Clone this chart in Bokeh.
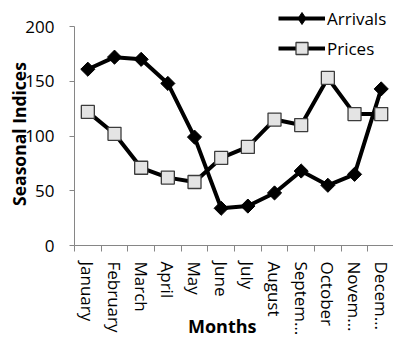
import math
from bokeh.plotting import figure
from bokeh.models import FixedTicker, Legend, LegendItem, Range1d, Label
from bokeh.embed import file_html
from bokeh.resources import INLINE

months = ["January", "February", "March", "April", "May", "June", "July",
          "August", "September", "October", "November", "December"]
month_labels = ["January", "February", "March", "April", "May", "June", "July",
                "August", "Septem…", "October", "Novem…", "Decem…"]
arrivals = [161, 172, 170, 148, 99, 34, 36, 48, 68, 55, 65, 143]
prices = [122, 102, 71, 62, 58, 80, 90, 115, 110, 153, 120, 120]
y_ticks = [0, 50, 100, 150, 200]
y_title = "Seasonal Indices"
x_title = "Months"

x = list(range(1, len(months) + 1))
FONT = "Open Sans"
AXIS_GRAY = "#868686"

W, H = 393, 337
PX_X = 26.67          # pixels per month
PX_Y = 1.095          # pixels per index unit
LEFT, BOTTOM = 74, 92  # plot-area offsets in pixels

x0 = 0.5
p = figure(width=W, height=H, output_backend="svg", toolbar_location=None,
           x_range=Range1d(x0 - LEFT / PX_X, x0 + (W - LEFT) / PX_X),
           y_range=Range1d(-BOTTOM / PX_Y, (H - BOTTOM) / PX_Y),
           min_border=0)
p.outline_line_color = None
p.xgrid.visible = False
p.ygrid.visible = False
p.background_fill_color = "white"

# Arrivals
l1 = p.line(x, arrivals, line_color="black", line_width=4)
leg1 = p.scatter(x, arrivals, marker="diamond", size=12, fill_color="black",
                 line_color="black", line_width=1)
m1 = p.scatter(x, arrivals, marker="square", size=10, angle=math.pi / 4,
               fill_color="black", line_color="black", line_width=1)
# Prices
l2 = p.line(x, prices, line_color="black", line_width=4)
m2 = p.scatter(x, prices, marker="square", size=13, fill_color="#e4e4e4",
               line_color="#3c3c3c", line_width=1.3)

# X axis
xa = p.xaxis[0]
xa.fixed_location = y_ticks[0]
xa.bounds = (x0, x0 + (W - LEFT) / PX_X)
xa.ticker = FixedTicker(ticks=x, minor_ticks=[v - 0.5 for v in x] + [x[-1] + 0.5])
xa.major_label_overrides = {v: lab for v, lab in zip(x, month_labels)}
xa.major_label_orientation = "vertical"
xa.major_tick_line_color = None
xa.major_tick_out = 6
xa.major_tick_in = 0
xa.minor_tick_out = 6
xa.minor_tick_in = 0
xa.minor_tick_line_color = AXIS_GRAY
xa.axis_line_color = AXIS_GRAY
xa.major_label_standoff = 10
xa.major_label_text_font = FONT
xa.major_label_text_font_size = "17px"
xa.major_label_text_color = "black"

# Y axis
ya = p.yaxis[0]
ya.fixed_location = x0
ya.bounds = (y_ticks[0], y_ticks[-1])
ya.ticker = FixedTicker(ticks=y_ticks)
ya.major_tick_out = 5
ya.major_tick_in = 0
ya.minor_tick_line_color = None
ya.major_tick_line_color = AXIS_GRAY
ya.axis_line_color = AXIS_GRAY
ya.major_label_standoff = 15
ya.major_label_text_font = FONT
ya.major_label_text_font_size = "17px"
ya.major_label_text_color = "black"

# Axis titles
p.add_layout(Label(x=18, y=H - 133.5, x_units="screen", y_units="screen",
                   text=y_title, angle=math.pi / 2, text_align="center",
                   text_baseline="middle", text_font=FONT, text_font_size="17.5px",
                   text_font_style="bold", text_color="black"))
p.add_layout(Label(x=221.7, y=H - 325.5, x_units="screen", y_units="screen",
                   text=x_title, text_align="center", text_baseline="middle",
                   text_font=FONT, text_font_size="18px", text_font_style="bold",
                   text_color="black"))

legend = Legend(items=[LegendItem(label="Arrivals", renderers=[l1, leg1]),
                       LegendItem(label="Prices", renderers=[l2, m2])],
                location=(278, H - 63), orientation="vertical",
                glyph_width=47, glyph_height=30, spacing=-2, padding=0, margin=0,
                label_standoff=2, label_height=30,
                label_text_font=FONT, label_text_font_size="17px",
                label_text_color="black",
                background_fill_alpha=0, border_line_alpha=0)
p.add_layout(legend, "center")

open("out.html", "w").write(file_html(p, INLINE))
